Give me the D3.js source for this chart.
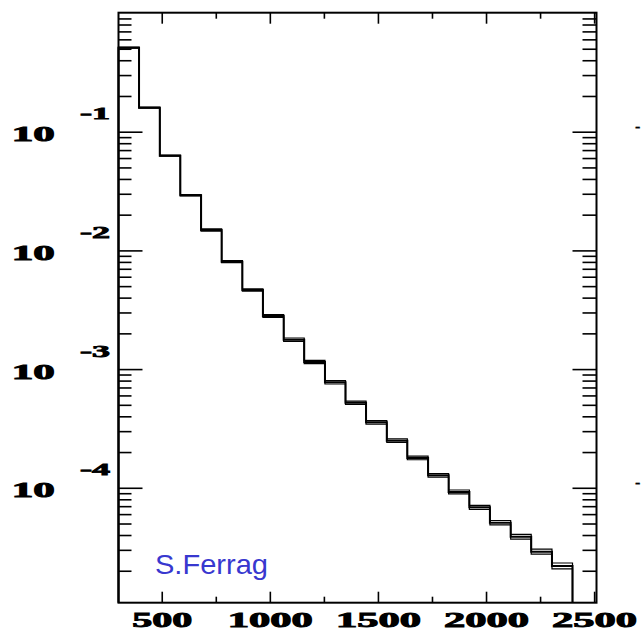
<!DOCTYPE html>
<html><head><meta charset="utf-8">
<script src="https://cdn.jsdelivr.net/npm/d3@7"></script>
<style>body{margin:0;background:#fff}svg{display:block}</style>
</head><body>
<svg id="c" width="641" height="631"></svg>
<script>
// ---- data ----
const binEdges = [300, 395, 491, 586, 682, 777, 873, 968, 1064, 1159, 1255, 1350, 1445, 1541, 1636, 1732, 1827, 1923, 2018, 2114, 2209, 2305, 2400];
const nominal = [0.510, 0.1593, 0.0628, 0.02912, 0.01485, 0.00803, 0.004637, 0.002802, 0.001769, 0.001148,
  7.74e-4, 5.21e-4, 3.56e-4, 2.492e-4, 1.783e-4, 1.274e-4, 9.22e-5, 6.85e-5, 5.08e-5, 3.87e-5, 2.895e-5, 2.194e-5];
const upper = [0.515, 0.1608, 0.0634, 0.02952, 0.01520, 0.00819, 0.004746, 0.002873, 0.001828, 0.001186,
  8.00e-4, 5.38e-4, 3.686e-4, 2.580e-4, 1.846e-4, 1.319e-4, 9.58e-5, 7.12e-5, 5.30e-5, 4.05e-5, 3.039e-5, 2.325e-5];
const lower = [0.505, 0.1578, 0.0622, 0.02873, 0.01451, 0.00788, 0.004530, 0.002732, 0.001712, 0.001111,
  7.49e-4, 5.04e-4, 3.438e-4, 2.407e-4, 1.722e-4, 1.230e-4, 8.87e-5, 6.59e-5, 4.87e-5, 3.70e-5, 2.758e-5, 2.070e-5];
const xMajorTicks = [500, 1000, 1500, 2000, 2500];
const xMinorTicks = [750, 1250, 1750, 2250];
const yExponents = [-1, -2, -3, -4];
const xDomain = [300, 2511];
const yDomain = [1.076e-5, 1.006];
const author = "S.Ferrag";

// ---- layout ----
const L = 118.5, R = 596.5, T = 12.7, B = 602.7;
const svg = d3.select("#c");
const x = d3.scaleLinear().domain(xDomain).range([L, R]);
const y = d3.scaleLog().domain(yDomain).range([B, T]);

const yMajor = yExponents.map(e => Math.pow(10, e));
const yMinor = [];
for (let e = -5; e <= 0; e++) for (let m = 2; m <= 9; m++) {
  const v = m * Math.pow(10, e);
  if (v >= yDomain[0] && v <= yDomain[1]) yMinor.push(v);
}

function styleAxis(g) {
  g.select(".domain").remove();
  g.selectAll(".tick line").attr("stroke", "#000").attr("stroke-width", 1.6);
}
const serif = "'Liberation Serif','DejaVu Serif',serif";
// left axis (ticks inward)
svg.append("g").attr("transform", `translate(${L},0)`)
  .call(d3.axisRight(y).tickValues(yMajor).tickSize(24).tickFormat("")).call(styleAxis);
svg.append("g").attr("transform", `translate(${L},0)`)
  .call(d3.axisRight(y).tickValues(yMinor).tickSize(13).tickFormat("")).call(styleAxis);
// right axis
svg.append("g").attr("transform", `translate(${R},0)`)
  .call(d3.axisLeft(y).tickValues(yMajor).tickSize(24).tickFormat("")).call(styleAxis);
svg.append("g").attr("transform", `translate(${R},0)`)
  .call(d3.axisLeft(y).tickValues(yMinor).tickSize(14).tickFormat("")).call(styleAxis);
// bottom axis
const bx = svg.append("g").attr("transform", `translate(0,${B})`)
  .call(d3.axisBottom(x).tickValues(xMajorTicks).tickSizeInner(-11).tickSizeOuter(0).tickPadding(24)
    .tickFormat(d3.format("d"))).call(styleAxis);
bx.selectAll(".tick text")
  .attr("font-family", serif).attr("font-weight", "bold")
  .attr("font-size", 20).attr("fill", "#000").attr("stroke", "#000").attr("stroke-width", 0.9)
  .attr("dy", 0).attr("y", 24.5)
  .attr("textLength", d => String(d).length === 3 ? 60 : 85).attr("lengthAdjust", "spacingAndGlyphs");
svg.append("g").attr("transform", `translate(0,${B})`)
  .call(d3.axisBottom(x).tickValues(xMinorTicks).tickSizeInner(-6).tickSizeOuter(0).tickFormat("")).call(styleAxis);
// top axis
svg.append("g").attr("transform", `translate(0,${T})`)
  .call(d3.axisBottom(x).tickValues(xMajorTicks).tickSizeInner(11).tickSizeOuter(0).tickFormat("")).call(styleAxis);
svg.append("g").attr("transform", `translate(0,${T})`)
  .call(d3.axisBottom(x).tickValues(xMinorTicks).tickSizeInner(6).tickSizeOuter(0).tickFormat("")).call(styleAxis);

// y labels 10^e
const yl = svg.append("g").attr("font-family", serif).attr("font-weight", "bold")
  .attr("fill", "#000").attr("stroke", "#000");
yExponents.forEach(e => {
  const ty = y(Math.pow(10, e));
  yl.append("text").attr("x", 11.7).attr("y", ty + 9.5).attr("font-size", 22).attr("stroke-width", 1)
    .attr("textLength", 43).attr("lengthAdjust", "spacingAndGlyphs").text("10");
  yl.append("text").attr("x", 80).attr("y", ty - 12.5).attr("font-size", 16.5).attr("stroke-width", 0.8)
    .attr("textLength", 30).attr("lengthAdjust", "spacingAndGlyphs").text(String(e));
});
// fragments of neighbouring panel labels at the right margin
[-1, -4].forEach(e => {
  yl.append("text").attr("x", 635).attr("y", y(Math.pow(10, e)) + 0.5).attr("font-size", 16)
    .attr("stroke-width", 0.3).text("-");
});

// histograms
function histPoints(vals) {
  const pts = [[binEdges[0], yDomain[0]]];
  vals.forEach((v, i) => pts.push([binEdges[i], v]));
  pts.push([binEdges[binEdges.length - 1], vals[vals.length - 1]]);
  pts.push([binEdges[binEdges.length - 1], yDomain[0]]);
  return pts;
}
const line = d3.line().x(d => x(d[0])).y(d => y(d[1])).curve(d3.curveStepAfter);
[[upper, 1.2], [lower, 1.2], [nominal, 2.0]].forEach(([vals, w]) => {
  svg.append("path").attr("d", line(histPoints(vals)))
    .attr("fill", "none").attr("stroke", "#000").attr("stroke-width", w);
});

// frame
svg.append("rect").attr("x", L).attr("y", T).attr("width", R - L).attr("height", B - T)
  .attr("fill", "none").attr("stroke", "#000").attr("stroke-width", 2);

// author label
svg.append("text").attr("x", 155).attr("y", 573.5)
  .attr("font-family", "'Liberation Sans',Arial,sans-serif").attr("font-size", 28.5)
  .attr("textLength", 113).attr("lengthAdjust", "spacingAndGlyphs")
  .attr("fill", "#3838cf").text(author);
</script>
</body></html>
